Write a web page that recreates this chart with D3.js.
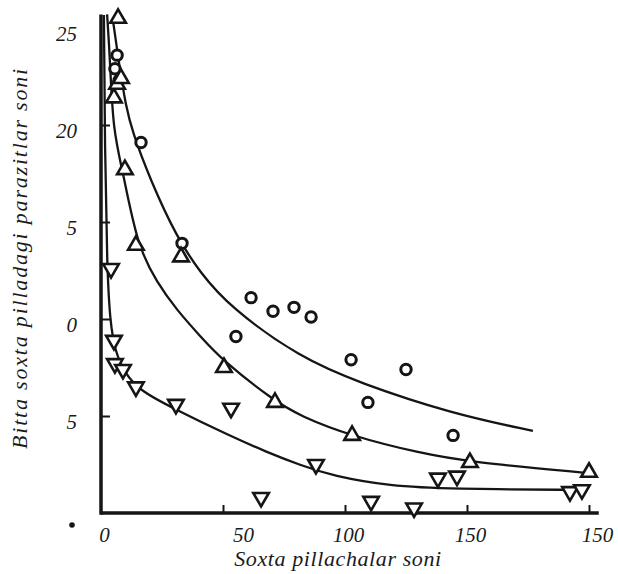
<!DOCTYPE html>
<html>
<head>
<meta charset="utf-8">
<script src="https://cdn.jsdelivr.net/npm/d3@7"></script>
<style>
  html, body { margin: 0; padding: 0; background: #fff; }
  svg { display: block; }
  text { font-family: "Liberation Serif", "DejaVu Serif", serif; font-style: italic; fill: #1a1a1a; }
</style>
</head>
<body>
<svg id="chart" width="618" height="574"></svg>
<script>
// ---- data ----
const xTickValues = [0, 50, 100, 150, 200];
const xTickLabels = ["0", "50", "100", "150", "150"];
const yTickValues = [5, 10, 15, 20, 25];
const yTickLabels = ["5", "0", "5", "20", "25"];

const circlePts = [
  [6.6, 23.6], [5.7, 22.9], [7.4, 22.3], [16.4, 19.1], [33.2, 13.9],
  [61.5, 11.1], [70.5, 10.4], [79.1, 10.6], [86.1, 10.1], [55.3, 9.1],
  [102.5, 7.9], [125, 7.4], [109.4, 5.7], [144.3, 4.0]
];
const triUpPts = [
  [7.0, 25.5], [5.3, 21.4], [6.6, 22.1], [8.2, 22.4], [9.8, 17.7],
  [14.3, 13.8], [32.8, 13.2], [50.4, 7.5], [71.3, 5.7], [102.9, 4.0],
  [151.2, 2.6], [200, 2.1]
];
const triDownPts = [
  [4.1, 12.6], [5.3, 8.9], [5.7, 7.7], [9.0, 7.4], [14.3, 6.5],
  [30.7, 5.6], [53.3, 5.4], [65.6, 0.8], [88.1, 2.5], [110.7, 0.6],
  [128.3, 0.26], [138.1, 1.8], [145.9, 1.9], [192.2, 1.1], [197.1, 1.2]
];

const upperCurve = [
  [4.9, 25.4], [7.8, 22.8], [10.2, 21.0], [12.7, 19.7], [20.1, 17.2],
  [31.1, 14.2], [40.6, 12.4], [52.9, 10.6], [81.6, 8.0], [106.1, 6.7],
  [143.0, 5.15], [177.0, 4.23]
];
const middleCurve = [
  [2.5, 25.7], [3.7, 23.4], [4.9, 19.7], [9.0, 17.6], [14.8, 13.8],
  [23.0, 11.86], [31.1, 10.46], [40.6, 9.12], [49.6, 7.89], [70.5, 5.82],
  [81.6, 5.0], [102.5, 3.97], [130.7, 3.09], [150.8, 2.63], [199.6, 2.06]
];
const lowerCurve = [
  [1.2, 25.67], [1.6, 18.7], [2.5, 12.6], [3.7, 9.9], [5.7, 8.35],
  [9.8, 7.2], [16.0, 6.3], [29.5, 5.4], [52.9, 3.97], [68.0, 3.14],
  [81.6, 2.47], [95.1, 1.91], [118.4, 1.39], [143.0, 1.24], [196.3, 1.19]
];

const xTitle = "Soxta pillachalar soni";
const yTitle = "Bitta soxta pilladagi parazitlar soni";

// ---- drawing ----
const ink = "#151515";
const svg = d3.select("#chart");
const x = d3.scaleLinear().domain([0, 200]).range([101, 589]);
const y = d3.scaleLinear().domain([0, 25]).range([513, 28]);

// curves
const line = d3.line().x(d => x(d[0])).y(d => y(d[1])).curve(d3.curveBasis);
[upperCurve, middleCurve, lowerCurve].forEach(c => {
  svg.append("path").attr("d", line(c))
    .attr("fill", "none").attr("stroke", ink).attr("stroke-width", 2.3);
});

// axes
const xAxis = d3.axisBottom(x).tickValues(xTickValues)
  .tickFormat((d, i) => xTickLabels[i]).tickSize(-8).tickPadding(14);
const gx = svg.append("g").attr("transform", `translate(0,${y(0)})`).call(xAxis);
gx.select(".domain").remove();
gx.selectAll(".tick line").attr("stroke", ink).attr("stroke-width", 2);
gx.selectAll(".tick text").attr("font-size", 21).attr("dy", "0.71em")
  .attr("dx", (d, i) => i === 1 ? 20 : (i === 4 ? 8 : 3));
gx.selectAll(".tick").filter(d => d === 0).select("line").remove();

const yAxis = d3.axisLeft(y).tickValues(yTickValues)
  .tickFormat((d, i) => yTickLabels[i]).tickSize(-9).tickPadding(24);
const gy = svg.append("g").attr("transform", `translate(${x(0)},0)`).call(yAxis);
gy.select(".domain").remove();
gy.selectAll(".tick line").attr("stroke", ink).attr("stroke-width", 2);
gy.selectAll(".tick text").attr("font-size", 21).attr("dy", "0.6em");
gy.selectAll(".tick").filter(d => d === 25).select("line").remove();

// axis lines (thick)
svg.append("line").attr("x1", x(0)).attr("x2", x(204)).attr("y1", y(0)).attr("y2", y(0))
  .attr("stroke", ink).attr("stroke-width", 3.5);
svg.append("line").attr("x1", x(0)).attr("x2", x(0)).attr("y1", y(0) + 1.7).attr("y2", y(25.7))
  .attr("stroke", ink).attr("stroke-width", 3.5);

// markers
svg.append("g").selectAll("circle").data(circlePts).join("circle")
  .attr("cx", d => x(d[0])).attr("cy", d => y(d[1])).attr("r", 5.2)
  .attr("fill", "#fff").attr("stroke", ink).attr("stroke-width", 3);

const tri = d3.symbol().type(d3.symbolTriangle).size(105);
svg.append("g").selectAll("path").data(triUpPts).join("path")
  .attr("d", tri).attr("transform", d => `translate(${x(d[0])},${y(d[1])})`)
  .attr("fill", "#fff").attr("stroke", ink).attr("stroke-width", 2.6);
svg.append("g").selectAll("path").data(triDownPts).join("path")
  .attr("d", tri).attr("transform", d => `translate(${x(d[0])},${y(d[1])}) rotate(180)`)
  .attr("fill", "#fff").attr("stroke", ink).attr("stroke-width", 2.6);

// dot near origin
svg.append("circle").attr("cx", 72).attr("cy", 525).attr("r", 2.8).attr("fill", ink);

// titles
svg.append("text").attr("x", 338).attr("y", 566).attr("text-anchor", "middle")
  .attr("font-size", 22).attr("letter-spacing", 0.6).text(xTitle);
svg.append("text").attr("transform", "translate(27,258) rotate(-90)")
  .attr("text-anchor", "middle").attr("font-size", 22).attr("letter-spacing", 1.8).text(yTitle);
</script>
</body>
</html>
